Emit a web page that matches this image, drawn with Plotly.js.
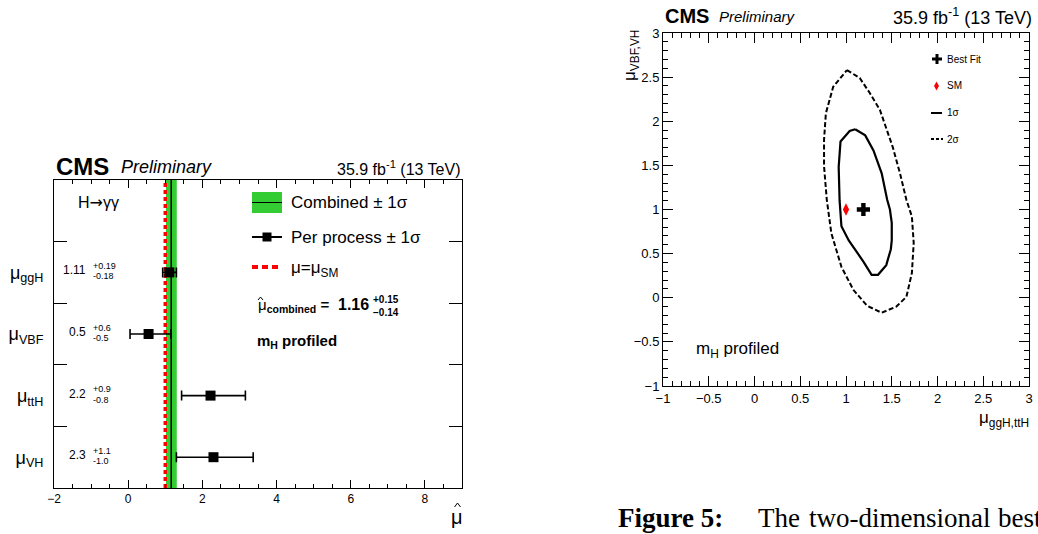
<!DOCTYPE html>
<html><head><meta charset="utf-8">
<script src="https://cdn.plot.ly/plotly-3.0.1.min.js"></script>
<style>html,body{margin:0;padding:0;background:#fff}#chart{width:1038px;height:534px}</style>
</head><body><div id="chart"></div>
<script>
// ---------- left panel: per-process signal strengths (H -> gamma gamma) ----------
const processes   = ['ggH', 'VBF', 'ttH', 'VH'];
const muValues    = [1.11, 0.55, 2.22, 2.30];
const muErrUp     = [0.19, 0.60, 0.94, 1.07];
const muErrDown   = [0.18, 0.50, 0.78, 1.00];
const muLabels    = ['1.11', '0.5', '2.2', '2.3'];
const muUpLabels  = ['+0.19', '+0.6', '+0.9', '+1.1'];
const muDnLabels  = ['-0.18', '-0.5', '-0.8', '-1.0'];
const muCombined = 1.16, muCombinedUp = 0.15, muCombinedDown = 0.14;
const muSM = 1.0;
const leftXTicks = [-2, 0, 2, 4, 6, 8];

// ---------- right panel: 2D likelihood scan ----------
const sigma1X = [1.10, 1.21, 1.30, 1.39, 1.45, 1.48, 1.50, 1.50, 1.49, 1.44, 1.35, 1.28, 1.19, 1.03, 0.95, 0.93, 0.92, 0.94, 1.04, 1.10];
const sigma1Y = [1.91, 1.84, 1.67, 1.41, 1.11, 1.00, 0.85, 0.65, 0.55, 0.37, 0.26, 0.26, 0.41, 0.65, 0.81, 1.10, 1.48, 1.77, 1.89, 1.91];
const sigma2X = [1.01, 1.15, 1.26, 1.37, 1.51, 1.59, 1.66, 1.72, 1.74, 1.72, 1.66, 1.55, 1.39, 1.23, 1.08, 0.95, 0.84, 0.79, 0.76, 0.76, 0.78, 0.86, 1.01];
const sigma2Y = [2.58, 2.49, 2.32, 2.13, 1.71, 1.41, 1.11, 0.92, 0.62, 0.28, 0.01, -0.10, -0.17, -0.09, 0.09, 0.35, 0.73, 1.11, 1.49, 1.79, 2.09, 2.39, 2.58];
const bestFitX = [1.19], bestFitY = [1.00];
const smX = [1.0], smY = [1.0];

// ---------- geometry helpers (page pixels -> paper fraction) ----------
const W = 1038, H = 534;
const px = v => v / W;
const py = v => 1 - v / H;
const FONT = 'Liberation Sans, Arial, Helvetica, sans-serif';
const SERIF = 'Liberation Serif, Times New Roman, serif';
const nProc = processes.length;
const procY = processes.map((p, i) => nProc - 0.5 - i);   // ggH on top

const traces = [
  { // combined +-1 sigma band
    x: [muCombined - muCombinedDown, muCombined + muCombinedUp, muCombined + muCombinedUp, muCombined - muCombinedDown, muCombined - muCombinedDown],
    y: [0, 0, nProc + 1, nProc + 1, 0],
    xaxis: 'x', yaxis: 'y', mode: 'lines', fill: 'toself', fillcolor: '#33cc33',
    line: { width: 0, color: '#33cc33' }, hoverinfo: 'skip', showlegend: false
  },
  { // combined central value
    x: [muCombined, muCombined], y: [0, nProc + 1], xaxis: 'x', yaxis: 'y', mode: 'lines',
    line: { color: 'black', width: 1.5 }, hoverinfo: 'skip', showlegend: false
  },
  { // SM expectation
    x: [muSM, muSM], y: [0, nProc + 1], xaxis: 'x', yaxis: 'y', mode: 'lines',
    line: { color: '#ff0000', width: 3.5, dash: '4px,3px' }, hoverinfo: 'skip', showlegend: false
  },
  { // per-process points
    x: muValues, y: procY, xaxis: 'x', yaxis: 'y', mode: 'markers',
    marker: { symbol: 'square', size: 10, color: 'black' },
    error_x: { type: 'data', array: muErrUp, arrayminus: muErrDown, symmetric: false, color: 'black', thickness: 1.6, width: 5 },
    hoverinfo: 'skip', showlegend: false
  },
  { // 2 sigma contour
    x: sigma2X, y: sigma2Y, xaxis: 'x2', yaxis: 'y2', mode: 'lines',
    line: { color: 'black', width: 2, dash: '5px,2.5px' }, hoverinfo: 'skip', showlegend: false
  },
  { // 1 sigma contour
    x: sigma1X, y: sigma1Y, xaxis: 'x2', yaxis: 'y2', mode: 'lines',
    line: { color: 'black', width: 2.2 }, hoverinfo: 'skip', showlegend: false
  },
  { // SM point
    x: smX, y: smY, xaxis: 'x2', yaxis: 'y2', mode: 'markers',
    marker: { symbol: 'diamond-tall', size: 9, color: '#ff0000' }, hoverinfo: 'skip', showlegend: false
  },
  { // best fit
    x: bestFitX, y: bestFitY, xaxis: 'x2', yaxis: 'y2', mode: 'markers',
    marker: { symbol: 'cross', size: 11, color: 'black' }, hoverinfo: 'skip', showlegend: false
  }
];

const axisCommon = {
  showline: true, linecolor: 'black', linewidth: 1, mirror: 'ticks',
  showgrid: false, zeroline: false, ticks: 'inside', tickcolor: 'black', tickwidth: 1,
  tickfont: { family: FONT, size: 12, color: 'black' }
};

const annotations = [];
function txt(x, y, text, size, opts) {
  annotations.push(Object.assign({
    xref: 'paper', yref: 'paper', x: px(x), y: py(y), text: text, showarrow: false,
    xanchor: 'left', yanchor: 'middle', font: { family: FONT, size: size, color: 'black' }
  }, opts || {}));
}

// left panel headers & labels
txt(54, 166, '<b>CMS</b>', 24);
txt(119, 167, '<i>Preliminary</i>', 18);
txt(463, 168, '35.9 fb<sup>-1</sup> (13 TeV)', 16, { xanchor: 'right' });
txt(76, 203, 'H<span style="font-family:DejaVu Sans">→</span>γγ', 16);
txt(289, 203, 'Combined ± 1σ', 17);
txt(289, 237, 'Per process ± 1σ', 17);
txt(289, 269, 'μ=μ<sub>SM</sub>', 17);
txt(256, 305, 'μ<sub><b>combined</b></sub><b> =</b>', 15);
txt(336, 304, '<b>' + muCombined.toFixed(2) + '</b>', 16);
txt(371, 299, '<b>+' + muCombinedUp.toFixed(2) + '</b>', 10);
txt(371, 312, '<b>−' + muCombinedDown.toFixed(2) + '</b>', 10);
txt(255, 341, '<b>m<sub>H</sub> profiled</b>', 15);
txt(457, 517, 'μ', 20, { xanchor: 'center' });

// value labels next to each process
processes.forEach((p, i) => {
  annotations.push({ xref: 'paper', yref: 'y', x: px(88), y: procY[i], yshift: 2, text: muLabels[i], showarrow: false,
    xanchor: 'right', yanchor: 'middle', font: { family: FONT, size: 12, color: 'black' } });
  annotations.push({ xref: 'paper', yref: 'y', x: px(91), y: procY[i], yshift: 6.5, text: muUpLabels[i], showarrow: false,
    xanchor: 'left', yanchor: 'middle', font: { family: FONT, size: 9, color: 'black' } });
  annotations.push({ xref: 'paper', yref: 'y', x: px(91), y: procY[i], yshift: -4, text: muDnLabels[i], showarrow: false,
    xanchor: 'left', yanchor: 'middle', font: { family: FONT, size: 9, color: 'black' } });
});

// right panel headers & labels
txt(663, 16, '<b>CMS</b>', 20);
txt(717, 17, '<i>Preliminary</i>', 15);
txt(1034, 17, '35.9 fb<sup>-1</sup> (13 TeV)', 18, { xanchor: 'right' });
txt(631, 56, 'μ<sub>VBF,VH</sub>', 17, { xanchor: 'center', textangle: -90 });
txt(1031, 419, 'μ<sub>ggH,ttH</sub>', 17, { xanchor: 'right' });
txt(694, 350, 'm<sub>H</sub> profiled', 17);
txt(945, 59, 'Best Fit', 10);
txt(945, 86, 'SM', 10);
txt(945, 113, '1σ', 10);
txt(945, 139, '2σ', 10);

// caption fragment
const capFont = { family: SERIF, size: 27, color: 'black' };
txt(616, 518, '<b>Figure 5:</b>', 27, { font: capFont });
txt(756, 518, 'The', 27, { font: capFont });
txt(807, 518, 'two-dimensional', 27, { font: capFont });
txt(996, 518, 'best', 27, { font: capFont });

function hat(cx, cy, hw, hh) {
  return { type: 'path', xref: 'paper', yref: 'paper',
    path: 'M' + px(cx - hw) + ',' + py(cy + hh) + ' L' + px(cx) + ',' + py(cy) + ' L' + px(cx + hw) + ',' + py(cy + hh),
    line: { color: 'black', width: 1 } };
}

// legend sample shapes
const shapes = [
  { type: 'rect', xref: 'paper', yref: 'paper', x0: px(252), x1: px(282), y0: py(192), y1: py(213), fillcolor: '#33cc33', line: { width: 0 } },
  { type: 'line', xref: 'paper', yref: 'paper', x0: px(252), x1: px(282), y0: py(202.5), y1: py(202.5), line: { color: 'black', width: 1 } },
  { type: 'line', xref: 'paper', yref: 'paper', x0: px(252), x1: px(282), y0: py(237), y1: py(237), line: { color: 'black', width: 2 } },
  { type: 'rect', xref: 'paper', yref: 'paper', x0: px(262.5), x1: px(271.5), y0: py(232.5), y1: py(241.5), fillcolor: 'black', line: { width: 0 } },
  { type: 'line', xref: 'paper', yref: 'paper', x0: px(252), x1: px(278), y0: py(267), y1: py(267), line: { color: '#ff0000', width: 4, dash: '6px,4px' } },
  hat(260.5, 297, 2.5, 3),
  hat(457.5, 503, 3, 4),
  // right legend
  { type: 'rect', xref: 'paper', yref: 'paper', x0: px(932), x1: px(942), y0: py(57.5), y1: py(60.5), fillcolor: 'black', line: { width: 0 } },
  { type: 'rect', xref: 'paper', yref: 'paper', x0: px(935.5), x1: px(938.5), y0: py(54), y1: py(64), fillcolor: 'black', line: { width: 0 } },
  { type: 'path', xref: 'paper', yref: 'paper',
    path: 'M' + px(936.5) + ',' + py(81.5) + ' L' + px(939) + ',' + py(86) + ' L' + px(936.5) + ',' + py(90.5) + ' L' + px(934) + ',' + py(86) + ' Z',
    fillcolor: '#ff0000', line: { width: 0 } },
  { type: 'line', xref: 'paper', yref: 'paper', x0: px(931), x1: px(942), y0: py(113), y1: py(113), line: { color: 'black', width: 2 } },
  { type: 'line', xref: 'paper', yref: 'paper', x0: px(931), x1: px(943), y0: py(139), y1: py(139), line: { color: 'black', width: 2, dash: '3px,2px' } }
];

const layout = {
  width: W, height: H, margin: { l: 0, r: 0, t: 0, b: 0 },
  paper_bgcolor: 'white', plot_bgcolor: 'white', hovermode: false, showlegend: false,
  font: { family: FONT, color: 'black' },
  xaxis: Object.assign({}, axisCommon, {
    domain: [px(54), px(462)], range: [-2, 9], anchor: 'y',
    tickmode: 'array', tickvals: leftXTicks, ticklen: 8,
    minor: { dtick: 0.5, tick0: 0, ticks: 'inside', ticklen: 4, tickcolor: 'black' }
  }),
  yaxis: Object.assign({}, axisCommon, {
    domain: [1 - 488 / H, 1 - 180 / H], range: [0, nProc + 1], anchor: 'x',
    tickmode: 'array', tickvals: procY, ticktext: processes.map(p => 'μ<sub>' + p + '</sub>'),
    ticks: '', tickfont: { family: FONT, size: 18, color: 'black' }, ticklabelstandoff: 6,
    minor: { tickmode: 'array', tickvals: [1, 2, 3, 4], ticks: 'inside', ticklen: 13, tickcolor: 'black' }
  }),
  xaxis2: Object.assign({}, axisCommon, {
    domain: [px(663), px(1029)], range: [-1, 3], anchor: 'y2', dtick: 0.5, tick0: 0, ticklen: 10,
    tickfont: { family: FONT, size: 13, color: 'black' },
    minor: { dtick: 0.1, tick0: 0, ticks: 'inside', ticklen: 5, tickcolor: 'black' }
  }),
  yaxis2: Object.assign({}, axisCommon, {
    domain: [1 - 386 / H, 1 - 33 / H], range: [-1, 3], anchor: 'x2', dtick: 0.5, tick0: 0, ticklen: 10,
    tickfont: { family: FONT, size: 13, color: 'black' },
    minor: { dtick: 0.1, tick0: 0, ticks: 'inside', ticklen: 5, tickcolor: 'black' }
  }),
  annotations: annotations,
  shapes: shapes
};

Plotly.newPlot('chart', traces, layout, { displayModeBar: false, staticPlot: true });
</script>
</body></html>
